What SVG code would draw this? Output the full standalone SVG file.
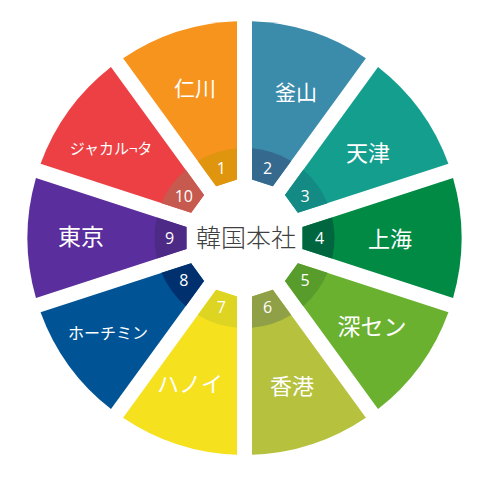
<svg xmlns="http://www.w3.org/2000/svg" width="492" height="483" viewBox="0 0 492 483">
<defs>
<style>
.lbl{fill:#fff;font-family:"Noto Sans CJK JP","Noto Sans",sans-serif;text-anchor:middle}
.num{fill:#fff;font-family:"Open Sans","Noto Sans",sans-serif;font-size:16px;text-anchor:middle}
.ctr{fill:#404040;font-family:"Noto Sans CJK JP",sans-serif;font-weight:300;font-size:25px;text-anchor:middle}
</style>
<path id="seg" d="M -10.96 -58 L 10.96 -58 L 59.88 -208.57 A 217 217 0 0 0 -59.88 -208.57 Z"/>
<path id="band" d="M -10.96 -58 L 10.96 -58 L 20.58 -87.61 A 90 90 0 0 0 -20.58 -87.61 Z"/>
</defs>
<rect width="492" height="483" fill="#fff"/>
<g transform="translate(244.5 238)">
<g id="s1" transform="rotate(342)"><use href="#seg" fill="#F7941D"/><use href="#band" fill="#E0950F"/></g>
<g id="s2" transform="rotate(18)"><use href="#seg" fill="#3B8BAB"/><use href="#band" fill="#356A8E"/></g>
<g id="s3" transform="rotate(54)"><use href="#seg" fill="#139E8E"/><use href="#band" fill="#148A85"/></g>
<g id="s4" transform="rotate(90)"><use href="#seg" fill="#008A43"/><use href="#band" fill="#006640"/></g>
<g id="s5" transform="rotate(126)"><use href="#seg" fill="#6AB12F"/><use href="#band" fill="#589C2B"/></g>
<g id="s6" transform="rotate(162)"><use href="#seg" fill="#B6C13D"/><use href="#band" fill="#8FA047"/></g>
<g id="s7" transform="rotate(198)"><use href="#seg" fill="#F5E11E"/><use href="#band" fill="#DDD522"/></g>
<g id="s8" transform="rotate(234)"><use href="#seg" fill="#005495"/><use href="#band" fill="#00306E"/></g>
<g id="s9" transform="rotate(270)"><use href="#seg" fill="#5A2E9C"/><use href="#band" fill="#4D2A86"/></g>
<g id="s10" transform="rotate(306)"><use href="#seg" fill="#EC4044"/><use href="#band" fill="#C75A4F"/></g>
</g>
<g id="labels">
<text class="lbl" x="195" y="96" font-size="21">仁川</text>
<text class="lbl" x="296" y="100" font-size="21">釜山</text>
<text class="lbl" x="368" y="161" font-size="22">天津</text>
<text class="lbl" x="390" y="247" font-size="22">上海</text>
<text class="lbl" x="372" y="335" font-size="23">深セン</text>
<text class="lbl" x="292" y="394" font-size="22">香港</text>
<text class="lbl" x="190" y="392" font-size="22">ハノイ</text>
<text class="lbl" x="108" y="339" font-size="16">ホーチミン</text>
<text class="lbl" x="81" y="245" font-size="23">東京</text>
<text class="lbl" x="111" y="154" font-size="15">ジャカル¬タ</text>
</g>
<g id="numbers">
<text class="num" x="221.3" y="174.4">1</text>
<text class="num" x="267.7" y="174.4">2</text>
<text class="num" x="305.2" y="201.7">3</text>
<text class="num" x="319.5" y="243.7">4</text>
<text class="num" x="305.2" y="285.8">5</text>
<text class="num" x="267.7" y="313">6</text>
<text class="num" x="221.3" y="313">7</text>
<text class="num" x="183.8" y="285.8">8</text>
<text class="num" x="169.5" y="243.7">9</text>
<text class="num" x="183.8" y="201.7">10</text>
</g>
<g id="center">
<text class="ctr" x="246" y="247">韓国本社</text>
</g>
</svg>
